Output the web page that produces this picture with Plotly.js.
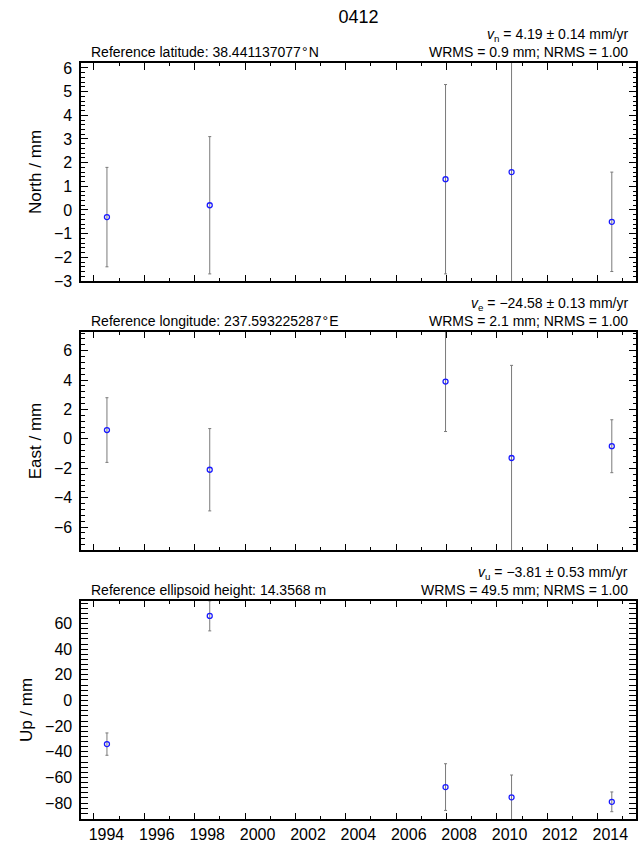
<!DOCTYPE html>
<html>
<head>
<meta charset="utf-8">
<script src="https://cdn.plot.ly/plotly-3.0.1.min.js"></script>
<style>html,body{margin:0;padding:0;background:#fff}#chart{width:639px;height:842px}</style>
</head>
<body>
<div id="chart"></div>
<script>
// ---- data ----
const stationName = "0412";
const epochs = [1994.52, 1998.60, 2007.96, 2010.58, 2014.56];
const north = [-0.3, 0.2, 1.3, 1.6, -0.5];
const northErr = [2.1, 2.9, 4.0, 5.5, 2.1];
const east = [0.6, -2.1, 3.9, -1.3, -0.5];
const eastErr = [2.2, 2.8, 3.4, 6.3, 1.8];
const up = [-34.0, 66.0, -67.5, -75.5, -79.0];
const upErr = [8.7, 11.7, 18.2, 17.4, 7.7];
const yearTicks = [1994, 1996, 1998, 2000, 2002, 2004, 2006, 2008, 2010, 2012, 2014];
const yearLabels = yearTicks.map(String);
const headerLeft = [
  "Reference latitude: 38.441137077\u200A°\u200AN",
  "Reference longitude: 237.593225287\u200A°\u200AE",
  "Reference ellipsoid height: 14.3568 m"
];
const velocityText = [
  "<i>v</i><sub>n</sub> = 4.19 ± 0.14 mm/yr",
  "<i>v</i><sub>e</sub> = −24.58 ± 0.13 mm/yr",
  "<i>v</i><sub>u</sub> = −3.81 ± 0.53 mm/yr"
];
const statsText = [
  "WRMS = 0.9 mm; NRMS = 1.00",
  "WRMS = 2.1 mm; NRMS = 1.00",
  "WRMS = 49.5 mm; NRMS = 1.00"
];
const axisTitles = ["North / mm", "East / mm", "Up / mm"];

// ---- styling ----
const FONT = "Liberation Sans, Arial, Helvetica, sans-serif";
const xRange = [1993.49, 2015.52];

function series(y, err, xa, ya) {
  return {
    x: epochs, y: y, xaxis: xa, yaxis: ya,
    type: "scatter", mode: "markers",
    marker: {symbol: "circle-open", size: 5, color: "#1a1aff", line: {width: 1.3, color: "#1a1aff"}},
    error_y: {type: "data", array: err, visible: true, color: "#7a7a7a", thickness: 1, width: 1.5},
    showlegend: false, hoverinfo: "x+y"
  };
}

const traces = [
  series(north, northErr, "x", "y"),
  series(east, eastErr, "x2", "y2"),
  series(up, upErr, "x3", "y3"),
  // carrier trace for the label-only axis (labels centred on mid-year)
  {x: epochs, y: up, xaxis: "x4", yaxis: "y3", type: "scatter", mode: "none", showlegend: false, hoverinfo: "skip"}
];

function xAxis(anchor) {
  return {
    anchor: anchor, range: xRange, tickmode: "array", tickvals: yearTicks,
    showticklabels: false, ticks: "inside", ticklen: 6.5, tickwidth: 1, tickcolor: "#000",
    minor: {dtick: 1, tick0: 1994, ticks: "inside", ticklen: 3.3, tickwidth: 1, tickcolor: "#000"},
    showline: true, linecolor: "#000", linewidth: 1.6, mirror: "allticks",
    showgrid: false, zeroline: false, fixedrange: true
  };
}
function yAxis(domain, range, dtick, minor, title) {
  return {
    domain: domain, range: range, tick0: 0, dtick: dtick,
    ticks: "inside", ticklen: 7, tickwidth: 1, tickcolor: "#000",
    minor: {dtick: minor, ticks: "inside", ticklen: 3.5, tickwidth: 1, tickcolor: "#000"},
    showline: true, linecolor: "#000", linewidth: 1.6, mirror: "allticks",
    showgrid: false, zeroline: false, fixedrange: true,
    tickfont: {family: FONT, size: 16, color: "#000"}, ticklabelstandoff: 4,
    title: {text: title, font: {family: FONT, size: 17, color: "#000"}, standoff: 8},
    automargin: false
  };
}

const annotations = [];
const refs = [["x", "y"], ["x2", "y2"], ["x3", "y3"]];
for (let i = 0; i < 3; i++) {
  const xr = refs[i][0] + " domain", yr = refs[i][1] + " domain";
  annotations.push({xref: xr, yref: yr, x: 0.0153, y: 1.052, xanchor: "left", yanchor: "middle",
    text: headerLeft[i], showarrow: false, font: {family: FONT, size: 14, color: "#000"}});
  annotations.push({xref: xr, yref: yr, x: 0.9888, y: 1.052, xanchor: "right", yanchor: "middle",
    text: statsText[i], showarrow: false, font: {family: FONT, size: 14, color: "#000"}});
  annotations.push({xref: xr, yref: yr, x: 0.9888, y: 1.13, xanchor: "right", yanchor: "middle",
    text: velocityText[i], showarrow: false, font: {family: FONT, size: 14, color: "#000"}});
}

const layout = {
  width: 639, height: 842,
  margin: {l: 80.5, r: 3, t: 63.3, b: 22.7, pad: 0},
  paper_bgcolor: "#fff", plot_bgcolor: "#fff",
  font: {family: FONT, size: 14, color: "#000"},
  title: {text: stationName, font: {family: FONT, size: 18, color: "#000"},
          x: 0.5, xref: "paper", xanchor: "center", y: 0.980, yref: "container", yanchor: "middle"},
  xaxis: xAxis("y"),
  xaxis2: xAxis("y2"),
  xaxis3: xAxis("y3"),
  xaxis4: {
    overlaying: "x3", anchor: "y3", side: "bottom", range: xRange,
    tickmode: "array", tickvals: yearTicks.map(v => v + 0.5), ticktext: yearLabels,
    ticks: "", showline: false, showgrid: false, zeroline: false, fixedrange: true,
    tickfont: {family: FONT, size: 16, color: "#000"}, ticklabelstandoff: 4
  },
  yaxis: yAxis([0.71164, 1], [-3.0, 6.21], 1, 0.2, axisTitles[0]),
  yaxis2: yAxis([0.35582, 0.64418], [-7.56, 7.27], 2, 0.4, axisTitles[1]),
  yaxis3: yAxis([0, 0.28836], [-92.4, 77.6], 20, 4, axisTitles[2]),
  annotations: annotations
};

Plotly.newPlot("chart", traces, layout, {displayModeBar: false, staticPlot: true});
</script>
</body>
</html>
